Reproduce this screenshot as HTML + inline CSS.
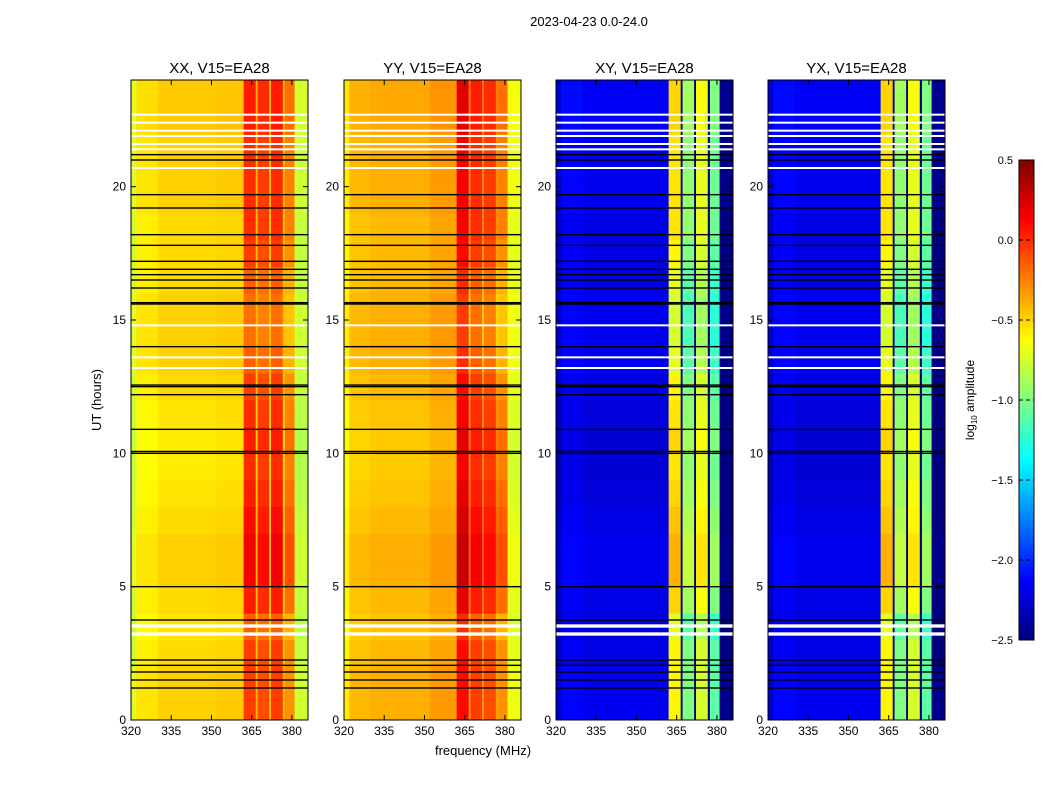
<!DOCTYPE html>
<html><head><meta charset="utf-8"><style>
body{margin:0;background:#fff;font-family:"Liberation Sans",sans-serif}
svg text{font-family:"Liberation Sans",sans-serif}
</style></head><body>
<svg id="fig" width="1050" height="800" viewBox="0 0 1050 800" xmlns="http://www.w3.org/2000/svg">
<rect width="1050" height="800" fill="#fff"/>
<text x="589" y="26" font-size="13" text-anchor="middle">2023-04-23 0.0-24.0</text>
<text x="483" y="755" font-size="13" text-anchor="middle">frequency (MHz)</text>
<text x="101" y="400" font-size="13" text-anchor="middle" transform="rotate(-90 101 400)">UT (hours)</text>
<g id="panels"></g>
<g id="cbar"></g>
</svg>
<script>
// ---- data ----
const freqEdges=[320,322,330,352,362,366.5,367.2,371.5,372.2,376.6,377.4,381,386];
const xxVals=[-0.75,-0.58,-0.52,-0.5,-0.05,-0.45,-0.1,-0.45,-0.05,-0.45,-0.3,-0.8];
const yyVals=[-0.6,-0.45,-0.42,-0.36,0.1,-0.35,-0.05,-0.35,-0.1,-0.35,-0.3,-0.7];
const xyVals=[-2.3,-2.15,-2.2,-2.2,-0.6,-2.5,-1.0,-2.5,-0.75,-2.5,-1.1,-2.5];
const yxVals=[-2.3,-2.15,-2.2,-2.2,-0.6,-2.5,-1.0,-2.5,-0.75,-2.5,-1.1,-2.5];
const hourBandMod=[0,0,0,-0.1,0.1,0.2,0.2,0.15,0.1,0.05,0.1,0.05,0,-0.1,-0.15,-0.15,-0.1,0,0.05,0.05,0.05,0.05,0.1,0.1];
const hourBgMod=[0.03,0.03,0.0,-0.03,0,0.03,0.03,0,-0.03,-0.05,-0.05,-0.03,0,0.03,0.03,0.03,0,0,0,0.03,0.03,0.03,0.05,0.05];
const blackFlags=[1.2,1.5,1.8,2.05,2.25,3.75,5.0,10.0,10.07,10.9,12.2,12.5,12.56,14.0,15.6,15.65,16.2,16.5,16.7,16.9,17.2,17.8,18.2,19.2,19.7,21.0,21.2];
const whiteFlags=[3.2,3.25,3.5,3.55,13.2,13.6,14.8,20.7,21.4,21.6,21.9,22.1,22.4,22.7];
const panelTitles=["XX, V15=EA28","YY, V15=EA28","XY, V15=EA28","YX, V15=EA28"];
const panelVals=[xxVals,yyVals,xyVals,yxVals];
const xTicks=[320,335,350,365,380];
const yTicks=[0,5,10,15,20];
const cbTicks=[0.5,0.0,-0.5,-1.0,-1.5,-2.0,-2.5];
// ---- layout ----
const panelLeft=[131,344,556,768], PW=177, PT=80, PB=720;
const fMin=320,fMax=386,tMin=0,tMax=24,vMin=-2.5,vMax=0.5;
function jet(v){let t=Math.max(0,Math.min(1,(v-vMin)/(vMax-vMin)));
 const c=x=>Math.round(255*Math.max(0,Math.min(1,1.5-Math.abs(4*t-x))));
 return `rgb(${c(3)},${c(2)},${c(1)})`;}
const NS="http://www.w3.org/2000/svg";
function el(tag,attrs,parent){const e=document.createElementNS(NS,tag);for(const k in attrs)e.setAttribute(k,attrs[k]);parent.appendChild(e);return e;}
const G=document.getElementById('panels');
panelLeft.forEach((L,p)=>{
 const xs=f=>L+(f-fMin)/(fMax-fMin)*PW;
 const ys=t=>PB-(t-tMin)/(tMax-tMin)*(PB-PT);
 const g=el('g',{},G);
 
 
 const vals=panelVals[p];
 for(let h=0;h<24;h++){
  for(let i=0;i<vals.length;i++){
   const isBand=i>=4&&i<=10&&vals[i]>(p>1?-2.4:-0.4);
   const v=vals[i]+(isBand?hourBandMod[h]:hourBgMod[h]);
   const r=el('rect',{x:xs(freqEdges[i]),y:ys(h+1),width:xs(freqEdges[i+1])-xs(freqEdges[i])+0.3,height:ys(h)-ys(h+1)+0.3,fill:jet(v)},g);
   
   
  }
 }
 blackFlags.forEach(t=>{const r=el('rect',{x:L,y:ys(t)-0.7,width:PW,height:1.4,fill:'#000'},g);
  });
 whiteFlags.forEach(t=>{const r=el('rect',{x:L,y:ys(t)-1,width:PW,height:2,fill:'#fff'},g);
  });
 el('rect',{x:L,y:PT,width:PW,height:PB-PT,fill:'none',stroke:'#000','stroke-width':1},g);
 const tt=el('text',{x:L+PW/2,y:PT-7,'font-size':15,'text-anchor':'middle'},g);tt.textContent=panelTitles[p];
 
 xTicks.forEach(f=>{el('line',{x1:xs(f),x2:xs(f),y1:PB,y2:PB-5,stroke:'#000'},g);el('line',{x1:xs(f),x2:xs(f),y1:PT,y2:PT+5,stroke:'#000'},g);
  const t=el('text',{x:xs(f),y:PB+15,'font-size':12,'text-anchor':'middle'},g);t.textContent=f;
  });
 yTicks.forEach(v=>{el('line',{x1:L,x2:L+5,y1:ys(v),y2:ys(v),stroke:'#000'},g);el('line',{x1:L+PW,x2:L+PW-5,y1:ys(v),y2:ys(v),stroke:'#000'},g);
  const t=el('text',{x:L-5,y:ys(v)+4,'font-size':12,'text-anchor':'end'},g);t.textContent=v;
  });
});
// colorbar
const C=document.getElementById('cbar');

const cy=v=>160+(vMax-v)/(vMax-vMin)*480;
for(let k=0;k<240;k++){const v=vMax-(k+0.5)/240*(vMax-vMin);el('rect',{x:1019,y:160+k*2,width:15,height:2.3,fill:jet(v)},C);}
el('rect',{x:1019,y:160,width:15,height:480,fill:'none',stroke:'#000'},C);
cbTicks.forEach(v=>{el('line',{x1:1019,x2:1034,y1:cy(v),y2:cy(v),stroke:'#000','stroke-dasharray':'4,3'},C);
 const t=el('text',{x:1013,y:cy(v)+4,'font-size':11,'text-anchor':'end'},C);
 t.textContent=(v<0?'\u2212':'')+Math.abs(v).toFixed(1);
 });
const cl=el('text',{x:974,y:400,'font-size':12,'text-anchor':'middle',transform:'rotate(-90 974 400)'},C);

cl.innerHTML='log<tspan font-size="8" dy="3">10</tspan><tspan dy="-3"> amplitude</tspan>';
</script>
</body></html>
